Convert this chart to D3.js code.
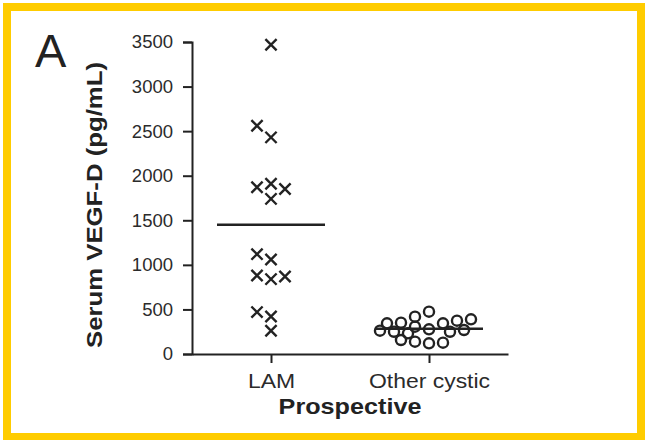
<!DOCTYPE html>
<html>
<head>
<meta charset="utf-8">
<script src="https://cdn.jsdelivr.net/npm/d3@7"></script>
<style>
  body { margin: 0; background: #fff; }
  text { font-family: Arial, "Liberation Sans", sans-serif; }
</style>
</head>
<body>
<svg id="chart" width="648" height="440"></svg>
<script>
// groups on the x axis
var groups = ["LAM", "Other cystic"];

// serum VEGF-D values (pg/mL)
var lamValues = [3470, 2430, 2560, 1910, 1870, 1850, 1740, 1060, 1120, 840, 880, 870, 420, 470, 260];
var cysticValues = [475, 277, 120, 419, 307, 138, 344, 127, 351, 232, 374, 250, 344, 157, 389, 250, 269, 262];

var yTicks = [0, 500, 1000, 1500, 2000, 2500, 3000, 3500];

var svg = d3.select("svg#chart"),
    width = +svg.attr("width"),
    height = +svg.attr("height");

// yellow frame
svg.append("rect")
    .attr("x", 7).attr("y", 7)
    .attr("width", width - 14).attr("height", height - 10)
    .attr("fill", "#fff")
    .attr("stroke", "#ffcc00")
    .attr("stroke-width", 8);

var x = d3.scalePoint().domain(groups).range([192, 508]).padding(0.5);
var y = d3.scaleLinear().domain([0, 3500]).range([354, 42]);

var ink = "#222";

//y axis
var yAxis = svg.append("g")
    .attr("transform", "translate(192,0)")
    .call(d3.axisLeft(y).tickValues(yTicks).tickFormat(d3.format("d")).tickSize(9).tickPadding(10));
yAxis.selectAll("path, line").attr("stroke", ink).attr("stroke-width", 2);
yAxis.selectAll("text")
    .attr("fill", "#2b2b2b")
    .style("font-size", "18.5px");

//x axis
var xAxis = svg.append("g")
    .attr("transform", "translate(0,354)")
    .call(d3.axisBottom(x).tickSize(9).tickSizeOuter(0).tickPadding(10));
xAxis.selectAll("path, line").attr("stroke", ink).attr("stroke-width", 2);
xAxis.selectAll("text")
    .attr("fill", "#2b2b2b")
    .attr("transform", "scale(1.12,1)")
    .style("font-size", "20.5px");

// axis titles
svg.append("text")
    .attr("transform", "translate(102,205) rotate(-90) scale(1.17,1)")
    .attr("text-anchor", "middle")
    .attr("fill", ink)
    .style("font-size", "22px")
    .style("font-weight", "bold")
    .text("Serum VEGF-D (pg/mL)");

svg.append("text")
    .attr("transform", "translate(350,414) scale(1.13,1)")
    .attr("text-anchor", "middle")
    .attr("fill", ink)
    .style("font-size", "22.3px")
    .style("font-weight", "bold")
    .text("Prospective");

// panel letter
svg.append("text")
    .attr("x", 35).attr("y", 67)
    .attr("fill", ink)
    .style("font-size", "47px")
    .text("A");

// spread points sideways so they don't sit on top of each other
// (greedy: nearest free slot to the centre, left side first)
function dodge(values, step, gap) {
  var placed = [];
  values.forEach(function(v) {
    var py = y(v);
    for (var k = 0; k < 40; k++) {
      var slot = k === 0 ? 0 : (k % 2 ? -(k + 1) / 2 : k / 2);
      var dx = slot * step;
      var hit = placed.some(function(p) {
        return Math.hypot(p.dx - dx, p.py - py) < gap;
      });
      if (!hit) { placed.push({value: v, dx: dx, py: py}); break; }
    }
  });
  return placed;
}

var series = [
  {name: "LAM", values: lamValues, symbol: d3.symbolX, size: 84, step: 14, gap: 13},
  {name: "Other cystic", values: cysticValues, symbol: d3.symbolCircle, size: 80, step: 7, gap: 9.5}
];

series.forEach(function(s) {
  var cx = x(s.name);
  var pts = dodge(s.values, s.step, s.gap);

  svg.append("g")
      .selectAll("path")
      .data(pts)
      .enter().append("path")
      .attr("transform", function(d) { return "translate(" + (cx + d.dx) + "," + d.py + ")"; })
      .attr("d", d3.symbol().type(s.symbol).size(s.size))
      .attr("fill", "none")
      .attr("stroke", ink)
      .attr("stroke-width", 2.4);

  //mean line
  var m = d3.mean(s.values);
  svg.append("line")
      .attr("x1", cx - 54).attr("x2", cx + 54)
      .attr("y1", y(m)).attr("y2", y(m))
      .attr("stroke", ink)
      .attr("stroke-width", 2.5);
});
</script>
</body>
</html>
